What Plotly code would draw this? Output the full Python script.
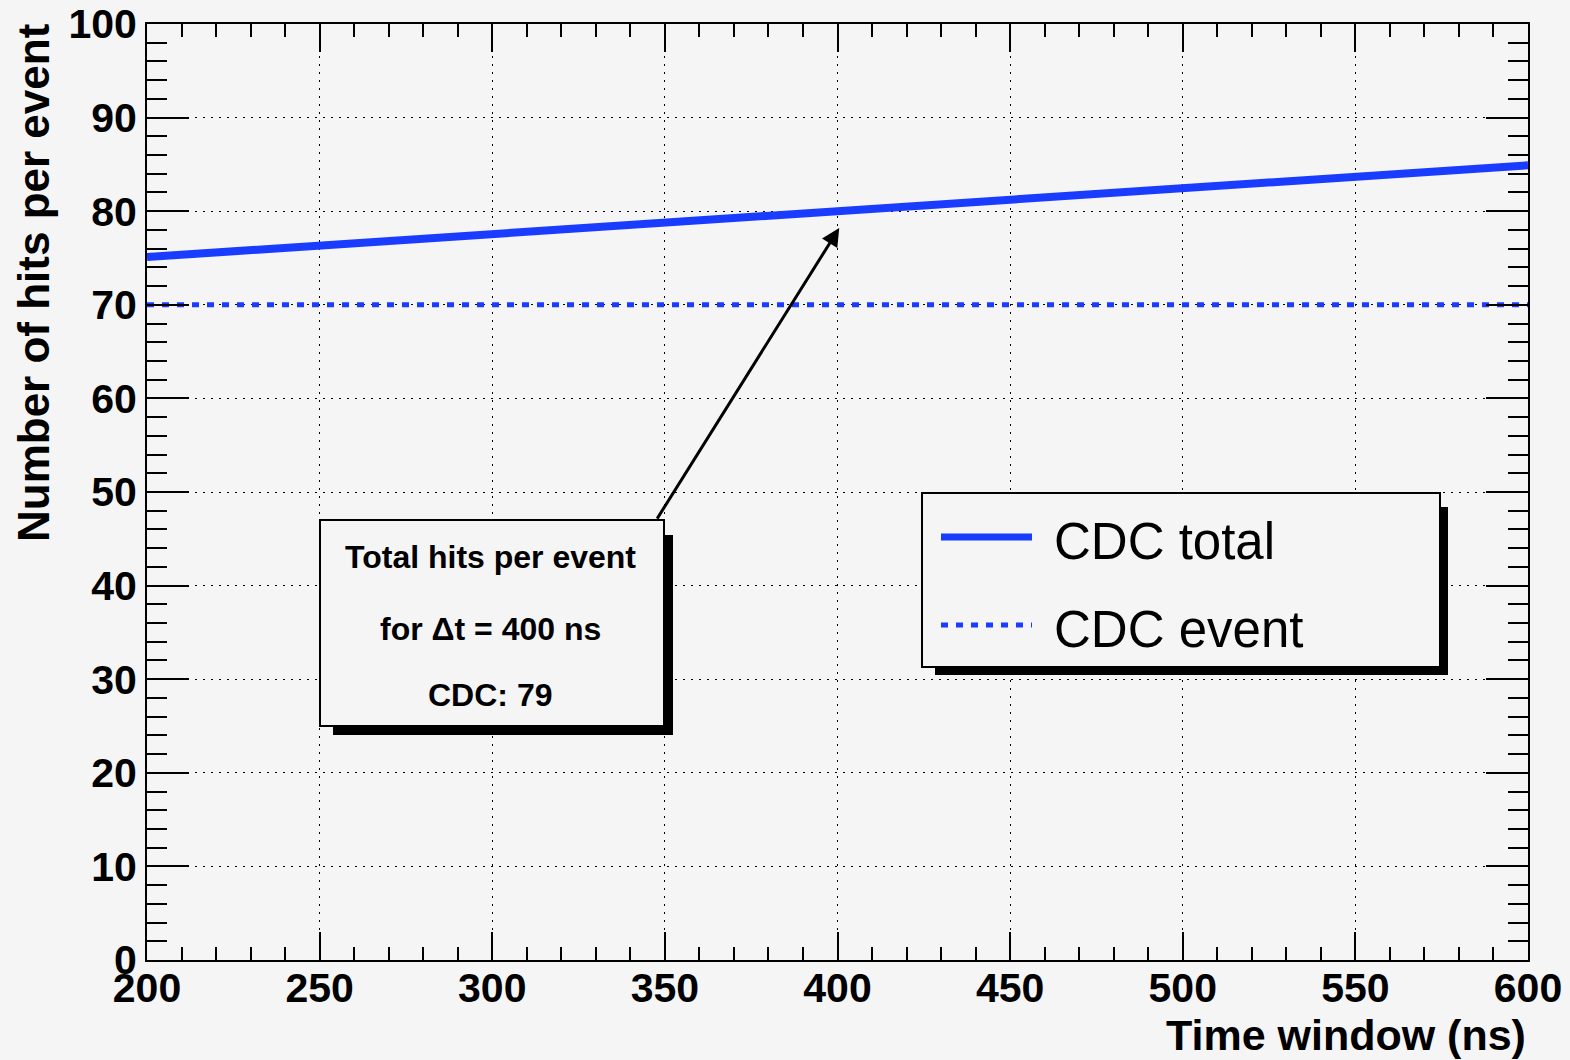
import plotly.graph_objects as go

# ---- data ----
time_window = [200, 250, 300, 350, 400, 450, 500, 550, 600]
cdc_total = [75.1, 76.3, 77.5, 78.7, 80.0, 81.2, 82.5, 83.7, 84.9]
cdc_event = [70.0, 70.0, 70.0, 70.0, 70.0, 70.0, 70.0, 70.0, 70.0]
series_names = ["CDC total", "CDC event"]
box_lines = ["Total hits per event", "for \u0394t = 400 ns", "CDC: 79"]
arrow_tip = (400.5, 78.2)
arrow_tail = (347.5, 47.0)

BG = "#f5f5f5"
BLUE = "#1a3cff"
FONT = "Liberation Sans, Arial, Helvetica, sans-serif"

W, H = 1570, 1060
L, R, T, B = 147, 1528, 24, 960


def xp(px):
    return (px - L) / (R - L)


def yp(py):
    return (B - py) / (B - T)


fig = go.Figure()
fig.add_trace(go.Scatter(x=time_window, y=cdc_total, mode="lines", name=series_names[0],
                         line=dict(color=BLUE, width=8), showlegend=False))
fig.add_trace(go.Scatter(x=time_window, y=cdc_event, mode="lines", name=series_names[1],
                         line=dict(color=BLUE, width=5, dash="7px,8px"), showlegend=False))

axis_common = dict(
    showline=True, linecolor="black", linewidth=2, mirror="ticks",
    ticks="inside", tickcolor="black", tickwidth=2,
    showgrid=True, gridcolor="black", gridwidth=1, griddash="2px,6px",
    zeroline=False, automargin=False,
    tickfont=dict(family=FONT, size=41, color="black", weight="bold"),
)

fig.update_xaxes(range=[200, 600], dtick=50, tick0=200, ticklen=28, ticklabelstandoff=-9,
                 minor=dict(dtick=10, ticklen=13, ticks="inside", tickcolor="black", tickwidth=2, showgrid=False),
                 **axis_common)
fig.update_yaxes(range=[0, 100], dtick=10, tick0=0, ticklen=42,
                 minor=dict(dtick=2, ticklen=20, ticks="inside", tickcolor="black", tickwidth=2, showgrid=False),
                 **axis_common)

shapes = []
annotations = []

# legend box (shadow + box)
shapes.append(dict(type="rect", xref="paper", yref="paper", x0=xp(935), x1=xp(1448), y0=yp(675), y1=yp(507),
                   fillcolor="black", line=dict(width=0), layer="above"))
shapes.append(dict(type="rect", xref="paper", yref="paper", x0=xp(922), x1=xp(1440), y0=yp(667), y1=yp(493),
                   fillcolor=BG, line=dict(color="black", width=2), layer="above"))
shapes.append(dict(type="line", xref="paper", yref="paper", x0=xp(941), x1=xp(1032), y0=yp(537), y1=yp(537),
                   line=dict(color=BLUE, width=7), layer="above"))
shapes.append(dict(type="line", xref="paper", yref="paper", x0=xp(941), x1=xp(1032), y0=yp(625), y1=yp(625),
                   line=dict(color=BLUE, width=5, dash="7px,8px"), layer="above"))
for name, py in zip(series_names, [541, 630]):
    annotations.append(dict(text=name, xref="paper", yref="paper", x=xp(1052), y=yp(py),
                            xanchor="left", yanchor="middle", showarrow=False,
                            font=dict(family=FONT, size=51, color="black")))

# text box (shadow + box)
shapes.append(dict(type="rect", xref="paper", yref="paper", x0=xp(333), x1=xp(673), y0=yp(735), y1=yp(535),
                   fillcolor="black", line=dict(width=0), layer="above"))
shapes.append(dict(type="rect", xref="paper", yref="paper", x0=xp(320), x1=xp(664), y0=yp(726), y1=yp(520),
                   fillcolor=BG, line=dict(color="black", width=2), layer="above"))
for txt, py in zip(box_lines, [557, 629, 695]):
    annotations.append(dict(text=txt, xref="paper", yref="paper", x=xp(490), y=yp(py),
                            xanchor="center", yanchor="middle", showarrow=False,
                            font=dict(family=FONT, size=32, color="black", weight="bold")))

# arrow
annotations.append(dict(text="", x=arrow_tip[0], y=arrow_tip[1], xref="x", yref="y",
                        ax=arrow_tail[0], ay=arrow_tail[1], axref="x", ayref="y",
                        showarrow=True, arrowhead=2, arrowsize=1.2, arrowwidth=3, arrowcolor="black"))

# axis titles (right / top aligned, ROOT style)
annotations.append(dict(text="Time window (ns)", xref="paper", yref="paper", x=xp(1528), y=yp(1035),
                        xanchor="right", yanchor="middle", showarrow=False,
                        font=dict(family=FONT, size=43, color="black", weight="bold")))
annotations.append(dict(text="Number of hits per event", xref="paper", yref="paper", x=xp(33), y=yp(283),
                        xanchor="center", yanchor="middle", showarrow=False, textangle=-90,
                        font=dict(family=FONT, size=44, color="black", weight="bold")))

fig.update_layout(
    width=W, height=H,
    margin=dict(l=L, r=W - R, t=T, b=H - B, pad=0, autoexpand=False),
    paper_bgcolor=BG, plot_bgcolor=BG,
    shapes=shapes, annotations=annotations,
    showlegend=False,
)

fig.write_html(
    "out.html",
    config={"displayModeBar": False},
    post_script="document.body.style.margin='0';document.body.style.background='%s';" % BG,
)
